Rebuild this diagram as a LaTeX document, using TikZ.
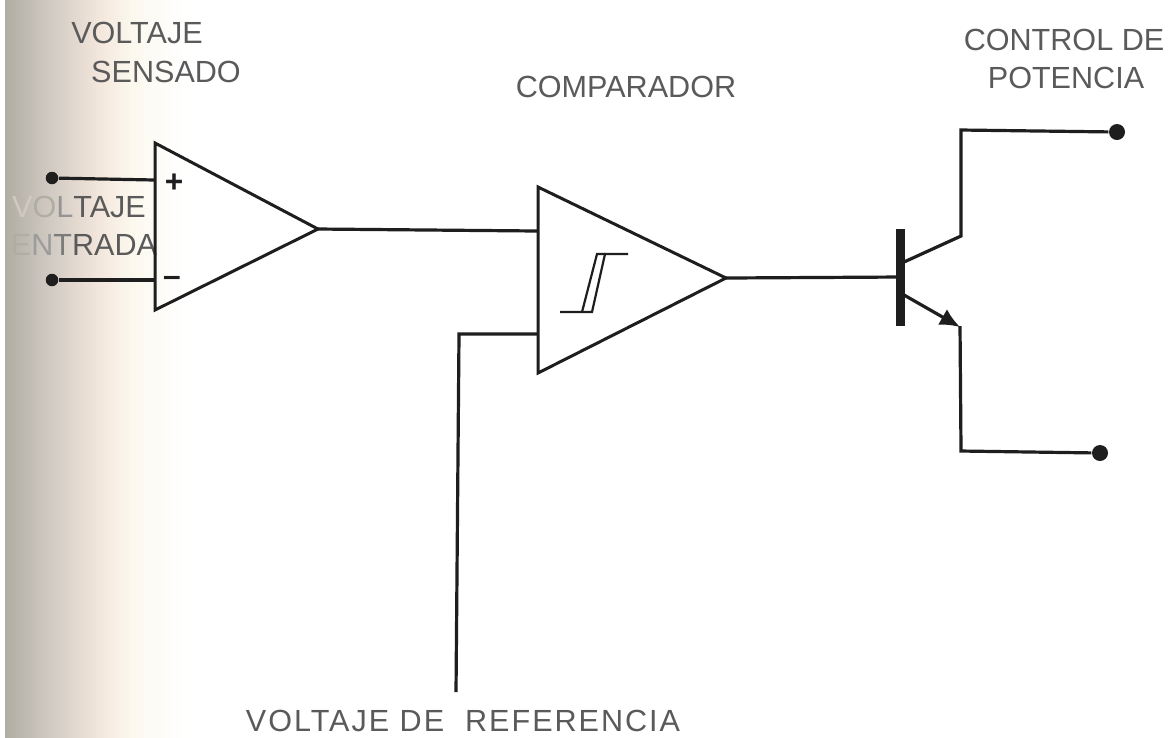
\documentclass[tikz,border=0pt]{standalone}
\usepackage{fontspec}
\setmainfont{Liberation Sans}
\usetikzlibrary{arrows.meta}
\definecolor{inkline}{HTML}{1E1E1E}
\definecolor{labelgray}{HTML}{5A5A5A}
\definecolor{shadowgray}{HTML}{B0ADA3}
\definecolor{shadowwarm}{HTML}{F3E6DC}
\definecolor{shadowmid}{HTML}{CFC9C1}
\definecolor{shadowpale}{HTML}{FBF8EE}
\pgfdeclarehorizontalshading{scanshadow}{100bp}{
  color(0bp)=(shadowgray); color(25bp)=(shadowgray); color(37bp)=(shadowmid); color(51bp)=(shadowwarm);
  color(60bp)=(shadowpale); color(75bp)=(white); color(100bp)=(white)}
\tikzset{
  wire/.style={line width=0.32mm, inkline},
  opamp/.style={line width=0.3mm, inkline},
  lbl/.style={font=\fontsize{8.7}{10}\selectfont, labelgray, inner sep=0pt},
  sign/.style={font=\bfseries\fontsize{9}{9}\selectfont, inkline, inner sep=0pt},
  term/.style={circle, fill=inkline, inner sep=0pt, minimum size=1.6mm},
  smallterm/.style={circle, fill=inkline, inner sep=0pt, minimum size=1.25mm}
}
\begin{document}
\begin{tikzpicture}[x=0.1mm, y=-0.1mm]
      \useasboundingbox (0,0) rectangle (1172,737);
      \fill[white] (0,0) rectangle (1172,737);
      \shade[shading=scanshadow] (5,0) rectangle (185,737);
      % input labels, faded into the shadow
      \node[lbl] (inLabelA) at (79,207) {\textcolor{shadowmid}{V}\textcolor{shadowgray}{O}\textcolor{labelgray!65}{L}TAJE};
      \node[lbl] (inLabelB) at (84,245) {\textcolor{shadowgray}{E}\textcolor{labelgray!60}{N}\textcolor{labelgray!80}{T}RADA};
      % sensing amplifier
      \coordinate (ampA) at (155,143);
      \coordinate (ampB) at (155,310);
      \coordinate (ampOut) at (318,229);
      \draw[opamp] (ampA)--(ampOut)--(ampB)--cycle;
      \node[sign] (plus) at (174,183) {+};
      \node[sign] (minus) at (172,281) {–};
      \node[smallterm] (inP) at (52,178) {};
      \node[smallterm] (inN) at (52,280) {};
      \coordinate (ampP) at (155,180);
      \coordinate (ampN) at (155,280);
      \draw[wire] (inP)--(ampP);
      \draw[wire] (inN)--(ampN);
      % comparator
      \coordinate (compA) at (538,187);
      \coordinate (compB) at (538,373);
      \coordinate (compOut) at (726,278);
      \draw[opamp] (compA)--(compOut)--(compB)--cycle;
      \coordinate (compP) at (538,231);
      \coordinate (compN) at (538,334);
      \draw[wire] (ampOut)--(compP);
      % hysteresis symbol
      \draw[line width=0.22mm, inkline] (560,312)--(592,312)--(605,254)--(628,254);
      \draw[line width=0.22mm, inkline] (582,312)--(597,254)--(605,254);
      % reference
      \coordinate (refEnd) at (456,692);
      \draw[wire] (compN)--(459,334)--(refEnd);
      % transistor
      \coordinate (base) at (900,277);
      \draw[line width=0.9mm, inkline] (900,229)--(900,326);
      \draw[wire] (compOut)--(base);
      \node[term] (termC) at (1117,132) {};
      \node[term] (termE) at (1100,453) {};
      \draw[wire] (904,262)--(961,236)--(961,130)--(termC);
      \draw[wire, -{Latex[length=2mm, width=1.8mm]}] (904,295)--(960,327);
      \draw[wire] (960,326)--(961,451)--(termE);
      % labels
      \node[lbl] (sensedA) at (137,33) {VOLTAJE};
      \node[lbl] (sensedB) at (166,72) {SENSADO};
      \node[lbl] (compLabel) at (626,87) {COMPARADOR};
      \node[lbl] (powerA) at (1064,40) {CONTROL DE};
      \node[lbl] (powerB) at (1066,78) {POTENCIA};
      \node[lbl] (refLabel) at (463,721) {\addfontfeature{LetterSpace=6.5}VOLTAJE DE \ REFERENCIA};
\end{tikzpicture}
\end{document}
